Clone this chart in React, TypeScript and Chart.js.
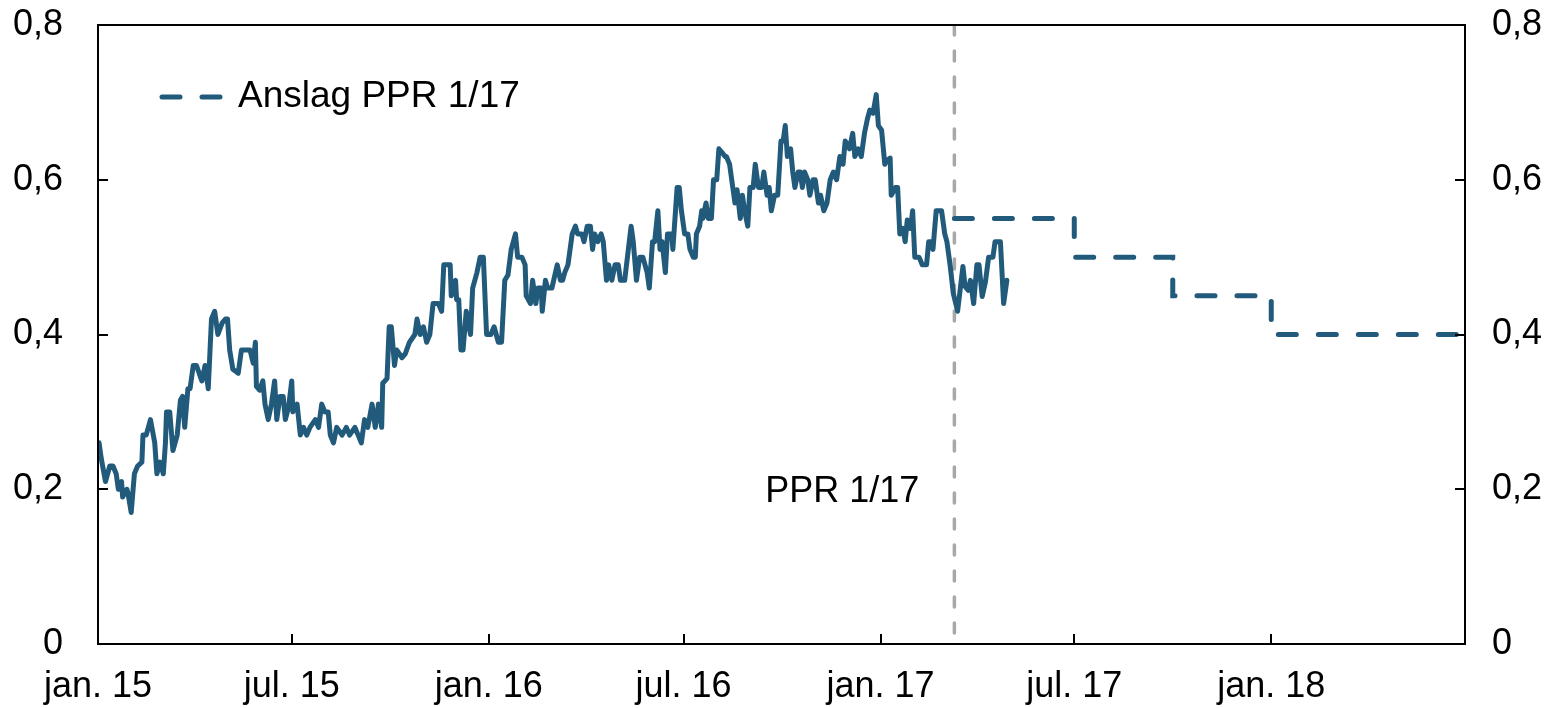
import React, { useEffect, useRef } from "react";
import { Chart, registerables } from "chart.js";

Chart.register(...registerables);

// x values are days since 1 Jan 2015
const X_TICK_DAYS = [0, 181, 365, 547, 731, 912, 1096];
const X_TICK_LABELS = ["jan. 15", "jul. 15", "jan. 16", "jul. 16", "jan. 17", "jul. 17", "jan. 18"];
const X_MIN_DAY = 0;
const X_MAX_DAY = 1277;

const Y_TICKS = [0, 0.2, 0.4, 0.6, 0.8];
const Y_TICK_LABELS = ["0", "0,2", "0,4", "0,6", "0,8"];

const PPR_DAY = 800;
const PPR_LABEL = "PPR 1/17";
const FORECAST_LABEL = "Anslag PPR 1/17";

// Forecast (quarterly steps)
const forecastDays = [800, 912, 1004, 1096, 1277];
const forecastValues = [0.55, 0.5, 0.45, 0.4, 0.4];

// Observed series: [day, value]
const hist2015: [number, number][] = [
  [1, 0.26], [3, 0.24], [7, 0.21], [11, 0.23], [14, 0.23], [17, 0.22], [19, 0.2], [22, 0.21], [23, 0.19],
  [27, 0.2], [28, 0.195], [31, 0.17], [34, 0.22], [37, 0.23], [41, 0.235], [42, 0.27], [45, 0.27], [49, 0.29],
  [53, 0.26], [55, 0.22], [58, 0.235], [61, 0.22], [63, 0.26], [64, 0.3], [67, 0.3], [70, 0.25], [74, 0.27],
  [77, 0.315], [79, 0.32], [81, 0.28], [84, 0.33], [86, 0.33], [89, 0.36], [92, 0.36], [97, 0.34], [100, 0.36],
  [103, 0.33], [106, 0.42], [109, 0.43], [112, 0.4], [116, 0.415], [119, 0.42], [121, 0.42], [123, 0.38],
  [126, 0.355], [131, 0.35], [134, 0.38], [139, 0.38],
  [142, 0.38], [145, 0.363], [147, 0.39], [148, 0.333], [151, 0.328], [154, 0.34], [156, 0.31], [159, 0.29],
  [162, 0.31], [165, 0.34], [167, 0.29], [170, 0.32], [173, 0.32], [175, 0.29], [178, 0.306], [181, 0.34],
  [182, 0.3], [186, 0.31], [189, 0.27], [192, 0.28], [195, 0.27], [198, 0.28], [203, 0.29], [206, 0.28],
  [209, 0.31], [212, 0.3], [215, 0.3], [217, 0.27], [220, 0.26], [223, 0.28], [228, 0.27], [232, 0.28],
  [235, 0.27], [240, 0.28], [243, 0.27], [246, 0.26], [249, 0.29], [252, 0.28], [256, 0.31], [259, 0.28],
  [262, 0.31], [265, 0.28], [266, 0.337], [270, 0.343], [272, 0.41], [274, 0.41], [277, 0.36], [279, 0.38],
  [284, 0.37],
  [287, 0.375], [291, 0.39], [296, 0.4], [298, 0.42], [301, 0.4], [304, 0.41], [307, 0.39], [310, 0.4],
  [313, 0.44], [318, 0.44], [321, 0.43], [323, 0.49], [329, 0.49], [330, 0.45], [334, 0.47], [335, 0.445],
  [337, 0.445], [339, 0.38], [341, 0.38], [344, 0.43], [348, 0.4], [350, 0.46], [354, 0.48], [357, 0.5],
  [360, 0.5], [363, 0.4],
];

const hist2016: [number, number][] = [
  [367, 0.4], [370, 0.41], [374, 0.39], [377, 0.39], [380, 0.47], [383, 0.477], [386, 0.51], [390, 0.53],
  [392, 0.5], [396, 0.5], [399, 0.49], [400, 0.45], [404, 0.44], [406, 0.47], [409, 0.44], [411, 0.46],
  [414, 0.46], [415, 0.43], [418, 0.47], [420, 0.46], [424, 0.46], [429, 0.49], [432, 0.47],
  [434, 0.47], [436, 0.48], [439, 0.49], [443, 0.53], [446, 0.54], [448, 0.53], [452, 0.53], [454, 0.52],
  [457, 0.54], [460, 0.54], [462, 0.51], [464, 0.53], [467, 0.52], [470, 0.53], [472, 0.52], [475, 0.47],
  [477, 0.49], [480, 0.47], [483, 0.49], [486, 0.49], [488, 0.47], [492, 0.47], [495, 0.505], [498, 0.54],
  [500, 0.52], [503, 0.47], [506, 0.5], [509, 0.5], [513, 0.48], [515, 0.46], [518, 0.52], [520, 0.52],
  [523, 0.56], [525, 0.51], [527, 0.52], [530, 0.48], [532, 0.53], [536, 0.53], [537, 0.51], [541, 0.59],
  [543, 0.59], [545, 0.56], [548, 0.53], [551, 0.53], [553, 0.51], [556, 0.5], [558, 0.5], [559, 0.53],
  [562, 0.54], [564, 0.56], [565, 0.55], [568, 0.57], [570, 0.55], [573, 0.55], [575, 0.6],
  [578, 0.6], [580, 0.64], [583, 0.635], [586, 0.63], [587, 0.63], [590, 0.62], [593, 0.59], [595, 0.57],
  [597, 0.587], [600, 0.55], [602, 0.58], [604, 0.56], [607, 0.54], [609, 0.59], [612, 0.59], [614, 0.62],
  [617, 0.59], [620, 0.59], [622, 0.61], [625, 0.58], [627, 0.59], [629, 0.56], [632, 0.58], [635, 0.58],
  [638, 0.65], [640, 0.65], [642, 0.67], [644, 0.63], [647, 0.64], [649, 0.61], [651, 0.59], [654, 0.61],
  [656, 0.61], [658, 0.59], [660, 0.61], [663, 0.6], [665, 0.58], [668, 0.6], [670, 0.6], [673, 0.57],
  [675, 0.58], [678, 0.56], [681, 0.57], [684, 0.6], [687, 0.61], [690, 0.6], [693, 0.63], [696, 0.62],
  [698, 0.65], [702, 0.64], [705, 0.66], [707, 0.63], [710, 0.64], [713, 0.63], [716, 0.66], [719, 0.68],
  [721, 0.69], [724, 0.686], [727, 0.71], [729, 0.67],
];

const hist2017: [number, number][] = [
  [732, 0.664], [735, 0.62], [737, 0.625], [740, 0.628], [741, 0.58], [745, 0.59], [747, 0.59], [749, 0.53],
  [752, 0.537], [754, 0.52], [756, 0.548], [759, 0.537], [761, 0.56], [763, 0.5], [767, 0.5], [770, 0.49],
  [774, 0.49], [776, 0.52], [778, 0.52], [780, 0.51], [783, 0.56], [788, 0.56], [791, 0.53], [793, 0.52],
  [796, 0.49], [799, 0.453], [803, 0.43], [805, 0.453], [808, 0.488], [810, 0.462], [813, 0.457], [815, 0.47],
  [818, 0.44], [821, 0.49], [823, 0.49], [826, 0.449], [829, 0.468], [832, 0.5], [836, 0.5], [838, 0.52],
  [843, 0.52], [846, 0.44], [849, 0.47],
];

const FONT = "'Liberation Sans', Arial, Helvetica, sans-serif";
const BLUE = "#225a7b";
const GREY = "#a8a8a8";

export default function App() {
  const ref = useRef<HTMLCanvasElement>(null);

  useEffect(() => {
    const history = [...hist2015, ...hist2016, ...hist2017].map(([d, v]) => ({ x: d, y: v }));
    const forecast = forecastDays.map((d, i) => ({ x: d, y: forecastValues[i] }));

    const decor = {
      id: "decor",
      afterDatasetsDraw(chart: any) {
        const { ctx, chartArea } = chart;
        const { left, right, top, bottom } = chartArea;
        const xs = chart.scales.x;
        const ys = chart.scales.y;
        ctx.save();
        ctx.strokeStyle = "#000";
        ctx.lineWidth = 2;
        ctx.strokeRect(left, top, right - left, bottom - top);
        // inward tick marks
        ctx.beginPath();
        X_TICK_DAYS.forEach((d) => {
          const px = Math.round(xs.getPixelForValue(d));
          ctx.moveTo(px, bottom);
          ctx.lineTo(px, bottom - 10);
        });
        Y_TICKS.forEach((v) => {
          const py = Math.round(ys.getPixelForValue(v));
          ctx.moveTo(left, py);
          ctx.lineTo(left + 10, py);
          ctx.moveTo(right, py);
          ctx.lineTo(right - 10, py);
        });
        ctx.stroke();

        // legend
        const ly = top + 72;
        ctx.strokeStyle = BLUE;
        ctx.lineWidth = 5;
        ctx.lineCap = "round";
        ctx.setLineDash([18, 22]);
        ctx.beginPath();
        ctx.moveTo(left + 64, ly);
        ctx.lineTo(left + 122, ly);
        ctx.stroke();
        ctx.setLineDash([]);
        ctx.fillStyle = "#000";
        ctx.font = `37px ${FONT}`;
        ctx.textBaseline = "middle";
        ctx.textAlign = "left";
        ctx.fillText(FORECAST_LABEL, left + 140, ly);

        // PPR label
        ctx.font = `36px ${FONT}`;
        ctx.textAlign = "right";
        ctx.fillText(PPR_LABEL, xs.getPixelForValue(PPR_DAY) - 35, ys.getPixelForValue(0.196));
        ctx.restore();
      },
    };

    const tickFont = { family: FONT, size: 36 };
    const yLabel = (v: any) => {
      const i = Y_TICKS.findIndex((t) => Math.abs(t - Number(v)) < 1e-9);
      return i >= 0 ? Y_TICK_LABELS[i] : "";
    };
    const fitY = (w: number) => (s: any) => {
      s.width = w;
      s.paddingTop = 0;
      s.paddingBottom = 0;
    };

    const chart = new Chart(ref.current as HTMLCanvasElement, {
      type: "line",
      data: {
        datasets: [
          {
            label: "Observed",
            data: history,
            borderColor: BLUE,
            borderWidth: 5,
            pointRadius: 0,
            tension: 0,
            borderJoinStyle: "round",
            borderCapStyle: "round",
            fill: false,
          },
          {
            label: FORECAST_LABEL,
            data: forecast,
            borderColor: BLUE,
            borderWidth: 5,
            borderDash: [18, 22],
            borderCapStyle: "round",
            pointRadius: 0,
            stepped: true,
            fill: false,
          },
          {
            label: PPR_LABEL,
            data: [
              { x: PPR_DAY, y: 0.8 },
              { x: PPR_DAY, y: 0 },
            ],
            borderColor: GREY,
            borderWidth: 3.5,
            borderDash: [10, 16],
            borderCapStyle: "round",
            pointRadius: 0,
            fill: false,
          },
        ],
      },
      options: {
        animation: false,
        responsive: false,
        devicePixelRatio: 1,
        events: [],
        layout: { padding: { top: 25, left: 0, right: 0, bottom: 0 } },
        plugins: { legend: { display: false }, tooltip: { enabled: false } },
        scales: {
          x: {
            type: "linear",
            position: "bottom",
            min: X_MIN_DAY,
            max: X_MAX_DAY,
            grid: { display: false, drawTicks: false },
            border: { display: false },
            afterBuildTicks: (s: any) => {
              s.ticks = X_TICK_DAYS.map((v) => ({ value: v }));
            },
            afterFit: (s: any) => {
              s.height = 64;
              s.paddingLeft = 0;
              s.paddingRight = 0;
            },
            ticks: {
              autoSkip: false,
              maxRotation: 0,
              minRotation: 0,
              padding: 21,
              color: "#000",
              font: tickFont,
              callback: (v: any) => {
                const i = X_TICK_DAYS.indexOf(Number(v));
                return i >= 0 ? X_TICK_LABELS[i] : "";
              },
            },
          },
          y: {
            position: "left",
            min: 0,
            max: 0.8,
            grid: { display: false, drawTicks: false },
            border: { display: false },
            afterBuildTicks: (s: any) => {
              s.ticks = Y_TICKS.map((v) => ({ value: v }));
            },
            afterFit: fitY(98),
            ticks: { padding: 35, color: "#000", font: tickFont, callback: yLabel },
          },
          y2: {
            position: "right",
            min: 0,
            max: 0.8,
            grid: { display: false, drawTicks: false },
            border: { display: false },
            afterBuildTicks: (s: any) => {
              s.ticks = Y_TICKS.map((v) => ({ value: v }));
            },
            afterFit: fitY(89),
            ticks: { padding: 27, color: "#000", font: tickFont, callback: yLabel },
          },
        },
      },
      plugins: [decor],
    } as any);

    return () => chart.destroy();
  }, []);

  return (
    <div style={{ position: "fixed", left: 0, top: 0, width: 1554, height: 708, background: "#fff" }}>
      <canvas ref={ref} width={1554} height={708} style={{ display: "block", width: 1554, height: 708 }} />
    </div>
  );
}
